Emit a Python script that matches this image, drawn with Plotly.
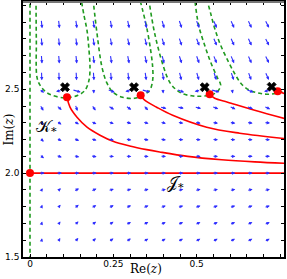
import math
import plotly.graph_objects as go

# ---------------- data ----------------
# vector-field grid (column centres, row centres)
arrow_x = [0.035, 0.087, 0.139, 0.191, 0.243, 0.295, 0.347, 0.399, 0.451, 0.503, 0.555, 0.607, 0.659, 0.711]
arrow_y = [2.89, 2.785, 2.68, 2.58, 2.49, 2.39, 2.3, 2.2, 2.1, 2.0, 1.9, 1.8, 1.7, 1.6]
# arrow direction on screen (degrees, 0 = right, 90 = up), one row per arrow_y
arrow_angle = [
    [-84, -83, -82, -81, -80, -78, -76, -74, -71, -69, -67, -66, -65, -63],
    [-85, -84, -83, -82, -80, -78, -76, -74, -71, -69, -67, -66, -65, -63],
    [-86, -85, -84, -83, -81, -79, -77, -75, -72, -70, -68, -67, -66, -64],
    [-88, -88, -87, -86, -85, -84, -82, -80, -76, -73, -72, -71, -70, -66],
    [-35, -170, -15, -85, -20, -170, -15, -85, -20, -170, -15, -80, -20, -170],
    [-60, -40, -70, -55, -30, -35, -45, -15, -10, -15, -20, -25, -20, -25],
    [-45, -35, -28, -22, -20, -16, -14, -12, -10, -9, -8, -8, -7, -6],
    [-45, -30, -22, -15, -12, -10, -8, -6, -5, -5, -4, -4, -3, -3],
    [-40, -20, -12, -8, -5, -4, -3, -2, -2, -1, -1, -1, 0, 0],
    [0, 0, 0, 0, 0, 0, 0, 0, 0, 0, 0, 0, 0, 0],
    [60, 40, 27, 21, 17, 15, 14, 13, 12, 12, 12, 12, 12, 12],
    [70, 50, 37, 30, 26, 23, 21, 20, 19, 19, 18, 18, 18, 18],
    [75, 55, 43, 36, 32, 29, 27, 25, 24, 24, 23, 23, 23, 23],
    [80, 60, 47, 40, 36, 33, 31, 30, 29, 28, 28, 27, 27, 27],
]
# arrow length (pixels)
arrow_len = [
    [9] * 14,
    [9] * 14,
    [9] * 14,
    [9] * 14,
    [6, 6, 9, 5, 8, 6, 9, 5, 8, 6, 9, 5, 8, 6],
    [7] * 14,
    [6] * 14,
    [6] * 14,
    [6] * 14,
    [6] * 14,
    [4, 5] + [6] * 12,
    [4, 5] + [6] * 12,
    [4, 5] + [6] * 12,
    [4, 5] + [6] * 12,
]

# K_* curves (green dashed)
k0_x = [0.0, 0.0]
k0_y = [1.4, 3.1]
k1_x = [0.018, 0.019, 0.021, 0.030, 0.045, 0.066, 0.105, 0.144, 0.165, 0.177, 0.180, 0.177, 0.171, 0.162, 0.153]
k1_y = [3.04, 2.792, 2.571, 2.524, 2.488, 2.464, 2.449, 2.464, 2.494, 2.554, 2.631, 2.732, 2.851, 2.940, 3.04]
k2_x = [0.189, 0.201, 0.216, 0.231, 0.249, 0.278, 0.314, 0.338, 0.359, 0.368, 0.368, 0.362, 0.350, 0.338, 0.329]
k2_y = [3.04, 2.833, 2.631, 2.536, 2.482, 2.452, 2.446, 2.464, 2.494, 2.554, 2.631, 2.732, 2.869, 2.970, 3.04]
k3_x = [0.356, 0.374, 0.401, 0.419, 0.437, 0.458, 0.485, 0.509, 0.539, 0.560, 0.572, 0.563, 0.542, 0.524, 0.506, 0.494]
k3_y = [3.04, 2.833, 2.631, 2.542, 2.500, 2.473, 2.461, 2.458, 2.464, 2.482, 2.524, 2.565, 2.661, 2.762, 2.881, 3.04]
k4_x = [0.530, 0.542, 0.554, 0.572, 0.596, 0.617, 0.635, 0.659, 0.689, 0.719, 0.749, 0.766]
k4_y = [3.04, 2.952, 2.863, 2.762, 2.661, 2.583, 2.530, 2.494, 2.476, 2.470, 2.482, 2.494]

# J_* curves (red)
j0_x = [0.0, 0.77]
j0_y = [2.0, 2.0]
j1_x = [0.111, 0.120, 0.141, 0.171, 0.210, 0.249, 0.299, 0.350, 0.389, 0.473, 0.575, 0.674, 0.770]
j1_y = [2.452, 2.393, 2.333, 2.274, 2.226, 2.190, 2.162, 2.140, 2.126, 2.100, 2.080, 2.067, 2.058]
j2_x = [0.332, 0.344, 0.380, 0.428, 0.530, 0.629, 0.770]
j2_y = [2.464, 2.435, 2.393, 2.345, 2.274, 2.238, 2.205]
j3_x = [0.539, 0.554, 0.593, 0.674, 0.770]
j3_y = [2.470, 2.446, 2.423, 2.375, 2.322]
j4_x = [0.743, 0.770]
j4_y = [2.488, 2.470]

# red start points
red_x = [0.0, 0.111, 0.332, 0.539, 0.743]
red_y = [2.0, 2.452, 2.464, 2.470, 2.488]

# black singular points
sing_x = [0.105, 0.312, 0.524, 0.725]
sing_y = [2.512, 2.512, 2.512, 2.515]

x_tick_vals = [round(0.05 * i, 2) for i in range(16)]
x_tick_text = ["0", "", "", "", "", "0.25", "", "", "", "", "0.5", "", "", "", "", "0.75"]
y_tick_vals = [round(1.5 + 0.1 * i, 1) for i in range(16)]
y_tick_text = ["1.5", "", "", "", "", "2.0", "", "", "", "", "2.5", "", "", "", "", ""]

X_RANGE = [-0.021, 0.762]
Y_RANGE = [1.5, 3.02]

# ---------------- figure ----------------
W, H = 287, 279
ML, MR, MT, MB = 23, 3, 2, 22
PW, PH = W - ML - MR, H - MT - MB
PX_X = PW / (X_RANGE[1] - X_RANGE[0])
PX_Y = PH / (Y_RANGE[1] - Y_RANGE[0])

fig = go.Figure()
GREEN = "#1f9a1f"
RED = "#ff0000"
BLUE = "#2e2eff"

for kx, ky in [(k0_x, k0_y), (k1_x, k1_y), (k2_x, k2_y), (k3_x, k3_y), (k4_x, k4_y)]:
    fig.add_trace(go.Scatter(x=kx, y=ky, mode="lines", line_shape="spline",
                             line=dict(color=GREEN, width=1.6, dash="4px,3px"),
                             hoverinfo="skip", showlegend=False))
for jx, jy in [(j0_x, j0_y), (j1_x, j1_y), (j2_x, j2_y), (j3_x, j3_y), (j4_x, j4_y)]:
    fig.add_trace(go.Scatter(x=jx, y=jy, mode="lines", line_shape="spline",
                             line=dict(color=RED, width=1.6),
                             hoverinfo="skip", showlegend=False))
fig.add_trace(go.Scatter(x=red_x, y=red_y, mode="markers",
                         marker=dict(color=RED, size=8), showlegend=False, hoverinfo="skip"))
fig.add_trace(go.Scatter(x=sing_x, y=sing_y, mode="markers",
                         marker=dict(color="black", size=8, symbol="x",
                                     line=dict(color="black", width=0.8)),
                         showlegend=False, hoverinfo="skip"))

annotations = []
for r, yv in enumerate(arrow_y):
    for c, xv in enumerate(arrow_x):
        a = math.radians(arrow_angle[r][c])
        L = arrow_len[r][c]
        hx = xv + 0.5 * L * math.cos(a) / PX_X
        hy = yv + 0.5 * L * math.sin(a) / PX_Y
        annotations.append(dict(
            x=hx, y=hy, xref="x", yref="y", text="", showarrow=True,
            ax=-L * math.cos(a), ay=L * math.sin(a),
            arrowhead=2, arrowsize=0.6, arrowwidth=1.1, arrowcolor=BLUE, standoff=0,
        ))

annotations.append(dict(x=0.013, y=2.27, xref="x", yref="y", xanchor="left", yanchor="middle",
                        text="𝒦<sub>*</sub>", showarrow=False,
                        font=dict(family="DejaVu Serif", size=16, color="black")))
annotations.append(dict(x=0.405, y=1.94, xref="x", yref="y", xanchor="left", yanchor="middle",
                        text="𝒥<sub>*</sub>", showarrow=False,
                        font=dict(family="DejaVu Serif", size=16, color="black")))
# axis titles
annotations.append(dict(x=(146 - ML) / PW, y=-(269 - (MT + PH)) / PH, xref="paper", yref="paper",
                        xanchor="center", yanchor="middle",
                        text="Re(<i>z</i>)", showarrow=False,
                        font=dict(family="DejaVu Serif", size=12, color="black")))
annotations.append(dict(x=-(ML - 8) / PW, y=0.5, xref="paper", yref="paper",
                        xanchor="center", yanchor="middle",
                        text="Im(<i>z</i>)", showarrow=False, textangle=-90,
                        font=dict(family="DejaVu Serif", size=12, color="black")))

axis_common = dict(showgrid=False, zeroline=False, showline=True, linecolor="black", linewidth=1.5,
                   mirror="ticks", ticks="inside", ticklen=3, tickwidth=1, tickcolor="black",
                   automargin=False,
                   tickfont=dict(family="DejaVu Sans", size=9, color="black"))

fig.update_layout(
    width=W, height=H,
    margin=dict(l=ML, r=MR, t=MT, b=MB, autoexpand=False),
    paper_bgcolor="white", plot_bgcolor="white",
    annotations=annotations,
    shapes=[dict(type="line", xref="paper", yref="paper", x0=0, x1=1, y0=1, y1=1,
                 line=dict(color="#777777", width=2))],
    xaxis=dict(range=X_RANGE, tickvals=x_tick_vals, ticktext=x_tick_text,
               ticklabelstandoff=-3, **axis_common),
    yaxis=dict(range=Y_RANGE, tickvals=y_tick_vals, ticktext=y_tick_text, **axis_common),
)

fig.write_html("out.html", config={"displayModeBar": False},
               post_script="document.body.style.margin='0';document.body.style.overflow='hidden';")
